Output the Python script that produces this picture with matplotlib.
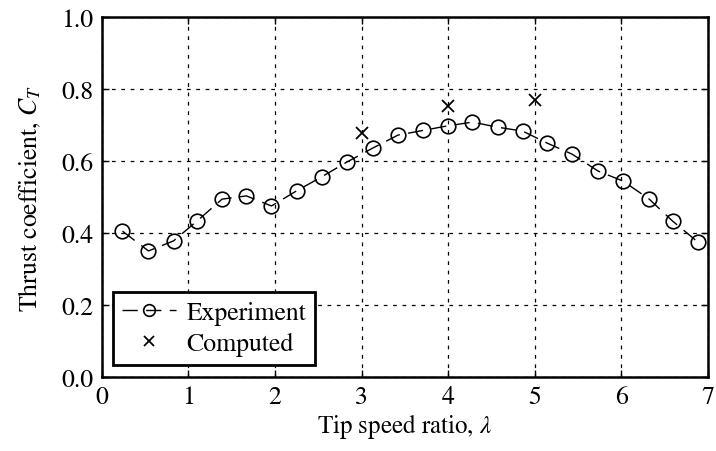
import matplotlib
matplotlib.use("Agg")
import matplotlib.pyplot as plt

plt.rcParams['font.family'] = 'STIXGeneral'
plt.rcParams['mathtext.fontset'] = 'stix'

# experiment
tsr_exp = [0.24, 0.54, 0.83, 1.10, 1.39, 1.67, 1.96, 2.25, 2.54, 2.83, 3.13, 3.42,
           3.71, 4.00, 4.28, 4.57, 4.86, 5.14, 5.43, 5.73, 6.02, 6.32, 6.59, 6.88]
ct_exp = [0.405, 0.350, 0.378, 0.433, 0.494, 0.503, 0.475, 0.517, 0.556, 0.597, 0.636, 0.672,
          0.685, 0.698, 0.708, 0.694, 0.683, 0.650, 0.619, 0.572, 0.544, 0.494, 0.433, 0.375]

# computed
tsr_comp = [3.0, 4.0, 5.0]
ct_comp = [0.678, 0.753, 0.770]

fig = plt.figure(figsize=(7.16, 4.52), dpi=100)
ax = fig.add_axes([0.142, 0.164, 0.847, 0.796])

ax.plot(tsr_exp, ct_exp, color='k', linestyle='--', dashes=(11, 6), lw=1.0,
        marker='o', markersize=10.5, markerfacecolor='none', markeredgewidth=1.2,
        markeredgecolor='k', label='Experiment')
ax.plot(tsr_comp, ct_comp, linestyle='none', marker='x', color='k', markersize=9,
        markeredgewidth=1.3, label='Computed')

ax.set_xlim(0, 7)
ax.set_ylim(0, 1.0)
ax.set_xticks(range(8))
ax.set_yticks([0.0, 0.2, 0.4, 0.6, 0.8, 1.0])
ax.set_yticklabels(['0.0', '0.2', '0.4', '0.6', '0.8', '1.0'])
ax.grid(True, color='k', linestyle=(0, (3, 4.5)), lw=0.9)

ax.tick_params(direction='in', top=True, right=True, length=5, width=1, labelsize=18.5, pad=6)
for s in ax.spines.values():
    s.set_linewidth(1.8)

ax.set_xlabel(r'Tip speed ratio, $\lambda$', fontsize=18, labelpad=1)
ax.set_ylabel(r'Thrust coefficient, $C_T$', fontsize=18.5, labelpad=13)

leg = ax.legend(loc='lower left', numpoints=1, fontsize=18.5, fancybox=False,
                framealpha=1, edgecolor='k', handlelength=2.1, handletextpad=0.4,
                borderpad=0.35, labelspacing=0.3, borderaxespad=0.45, markerscale=0.8)
leg.get_frame().set_linewidth(2)

fig.savefig('out.png', dpi=100)
